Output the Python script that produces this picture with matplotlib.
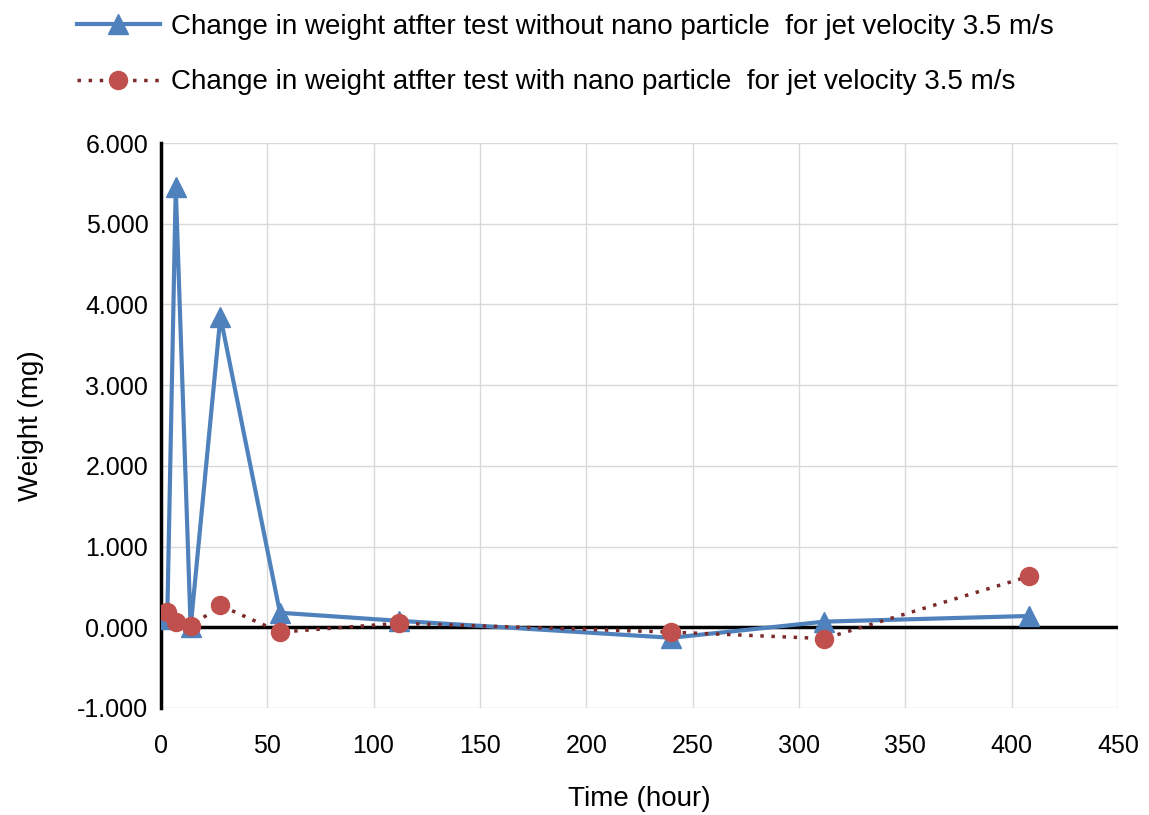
import matplotlib
matplotlib.use("Agg")
import matplotlib.pyplot as plt
from matplotlib.ticker import FormatStrFormatter

plt.rcParams['font.family'] = ['Liberation Sans', 'DejaVu Sans']

# data
time_h = [3, 7, 14, 28, 56, 112, 240, 312, 408]
w_without = [0.10, 5.45, 0.00, 3.85, 0.18, 0.08, -0.13, 0.07, 0.14]
w_with = [0.19, 0.07, 0.01, 0.27, -0.06, 0.05, -0.06, -0.14, 0.63]

label_without = "Change in weight atfter test without nano particle  for jet velocity 3.5 m/s"
label_with = "Change in weight atfter test with nano particle  for jet velocity 3.5 m/s"

fig = plt.figure(figsize=(11.49, 8.15), dpi=100)
ax = fig.add_axes([0.140, 0.1313, 0.833, 0.6932])

ax.plot(time_h, w_without, color="#4F81BD", lw=3, marker="^", ms=14,
        label=label_without, zorder=3)
ax.plot(time_h, w_with, color="#7B2A2A", lw=2.5, ls=(0, (1, 2.2)), marker="o",
        ms=13, mfc="#C0504D", mec="#C0504D", label=label_with, zorder=4)

ax.axhline(0, color="black", lw=2.5, zorder=2)

ax.set_xlim(0, 450)
ax.set_ylim(-1, 6)
ax.set_xticks(range(0, 451, 50))
ax.set_yticks(range(-1, 7))
ax.yaxis.set_major_formatter(FormatStrFormatter("%.3f"))
ax.grid(color="#d9d9d9", lw=1)
ax.set_axisbelow(True)
ax.tick_params(length=0, labelsize=18)
ax.tick_params(axis="x", pad=19)
ax.tick_params(axis="y", pad=9)

for s in ("top", "right", "bottom"):
    ax.spines[s].set_visible(False)
ax.spines["left"].set_color("black")
ax.spines["left"].set_linewidth(2.5)

ax.set_xlabel("Time (hour)", fontsize=20, labelpad=20)
ax.set_ylabel("Weight (mg)", fontsize=20, labelpad=24)

fig.legend(loc="upper left", bbox_to_anchor=(0.045, 1.014), frameon=False,
           fontsize=20, handlelength=3.0, handletextpad=0.4, labelspacing=1.07)

fig.savefig("out.png", dpi=100)
